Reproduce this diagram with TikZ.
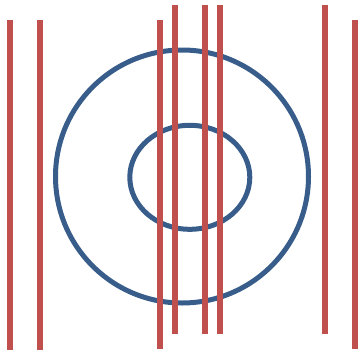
\documentclass[tikz,border=0pt]{standalone}
\usepackage{tikz}
\definecolor{ringblue}{HTML}{385D8A}
\definecolor{barred}{HTML}{C0504D}

\begin{document}
\begin{tikzpicture}[
  x=1pt, y=-1pt,
  ring/.style={draw=ringblue, line width=5pt},
  bar/.style={draw=barred, line width=6pt}
]
\useasboundingbox (0,0) rectangle (359,351);

% Rings
\draw[ring] (182,176.5) circle [radius=126.5];
\draw[ring] (189.8,177.3) ellipse [x radius=60, y radius=52];

% Long bars
\draw[bar] (10,20) -- (10,350);
\draw[bar] (40,20) -- (40,350);
\draw[bar] (160,20) -- (160,349);
\draw[bar] (355,20) -- (355,349);

% Short bars
\draw[bar] (175,5) -- (175,334);
\draw[bar] (205,5) -- (205,334);
\draw[bar] (220,5) -- (220,334);
\draw[bar] (325,5) -- (325,334);

\end{tikzpicture}
\end{document}
